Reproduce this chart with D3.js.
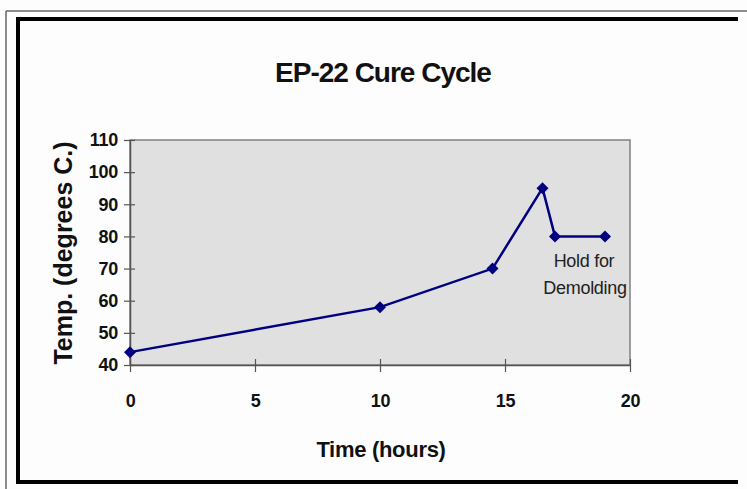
<!DOCTYPE html>
<html><head><meta charset="utf-8">
<script src="https://cdn.jsdelivr.net/npm/d3@7"></script>
<style>html,body{margin:0;padding:0;background:#fdfdfd;}svg{display:block;}</style>
</head><body>
<svg id="c" width="747" height="489"></svg>
<script>
const times = [0, 10, 14.5, 16.5, 17, 19];
const temps = [44, 58, 70, 95, 80, 80];
const xTicks = [0, 5, 10, 15, 20];
const yTicks = [40, 50, 60, 70, 80, 90, 100, 110];
const title = "EP-22 Cure Cycle";
const xTitle = "Time (hours)";
const yTitle = "Temp. (degrees C.)";
const note = ["Hold for", "Demolding"];

const svg = d3.select("#c");
const font = "'Liberation Sans', Arial, sans-serif";
const L = 130, R = 630, T = 140, B = 365;
const x = d3.scaleLinear().domain([0, 20]).range([L, R]);
const y = d3.scaleLinear().domain([40, 110]).range([B, T]);

// outer frame
svg.append("line").attr("x1", 6).attr("x2", 747).attr("y1", 11).attr("y2", 11).attr("stroke", "#666").attr("stroke-width", 1.5);
svg.append("line").attr("x1", 6).attr("x2", 6).attr("y1", 11).attr("y2", 489).attr("stroke", "#666").attr("stroke-width", 1.5);
svg.append("path").attr("d", "M738,19 H18 V482 H738").attr("fill", "none").attr("stroke", "#000").attr("stroke-width", 4);

// plot area
svg.append("rect").attr("x", L).attr("y", T).attr("width", R - L).attr("height", B - T)
  .attr("fill", "#e0e0e0").attr("stroke", "#808080").attr("stroke-width", 1.5);

// axes
const xa = svg.append("g").attr("transform", `translate(0,${B})`)
  .call(d3.axisBottom(x).tickValues(xTicks).tickSize(7).tickPadding(22).tickSizeOuter(0));
const ya = svg.append("g").attr("transform", `translate(${L},0)`)
  .call(d3.axisLeft(y).tickValues(yTicks).tickSize(6).tickPadding(6).tickSizeOuter(0));
[xa, ya].forEach(g => {
  g.select(".domain").attr("stroke", "#555").attr("stroke-width", 1.5);
  g.selectAll(".tick line").attr("stroke", "#555").attr("stroke-width", 1.2);
  g.selectAll(".tick text").attr("font-family", font).attr("font-weight", "bold")
    .attr("font-size", 18).attr("fill", "#111").attr("letter-spacing", -0.3);
});
// ticks cross the axis slightly
xa.selectAll(".tick line").attr("y1", -6);
ya.selectAll(".tick line").attr("x1", 5);

// line + markers
const pts = times.map((t, i) => [t, temps[i]]);
svg.append("path").datum(pts)
  .attr("d", d3.line().x(d => x(d[0])).y(d => y(d[1])))
  .attr("fill", "none").attr("stroke", "#000080").attr("stroke-width", 2.5);
svg.selectAll(".m").data(pts).join("path")
  .attr("transform", d => `translate(${x(d[0])},${y(d[1])})`)
  .attr("d", "M0,-6 L6,0 L0,6 L-6,0 Z").attr("fill", "#000080");

// annotation
svg.append("text").attr("x", 584).attr("y", 267).attr("text-anchor", "middle")
  .attr("font-family", font).attr("font-size", 18).attr("fill", "#222").attr("letter-spacing", -0.3).text(note[0]);
svg.append("text").attr("x", 585).attr("y", 294).attr("text-anchor", "middle")
  .attr("font-family", font).attr("font-size", 18).attr("fill", "#222").attr("letter-spacing", -0.3).text(note[1]);

// titles
svg.append("text").attr("x", 383).attr("y", 82).attr("text-anchor", "middle")
  .attr("font-family", font).attr("font-weight", "bold").attr("font-size", 28).attr("fill", "#111")
  .attr("letter-spacing", -1).text(title);
svg.append("text").attr("x", 381).attr("y", 457).attr("text-anchor", "middle")
  .attr("font-family", font).attr("font-weight", "bold").attr("font-size", 22).attr("fill", "#111")
  .attr("letter-spacing", -0.3).text(xTitle);
svg.append("text").attr("transform", "translate(72,253) rotate(-90)").attr("text-anchor", "middle")
  .attr("font-family", font).attr("font-weight", "bold").attr("font-size", 25).attr("fill", "#111")
  .text(yTitle);
</script>
</body></html>
